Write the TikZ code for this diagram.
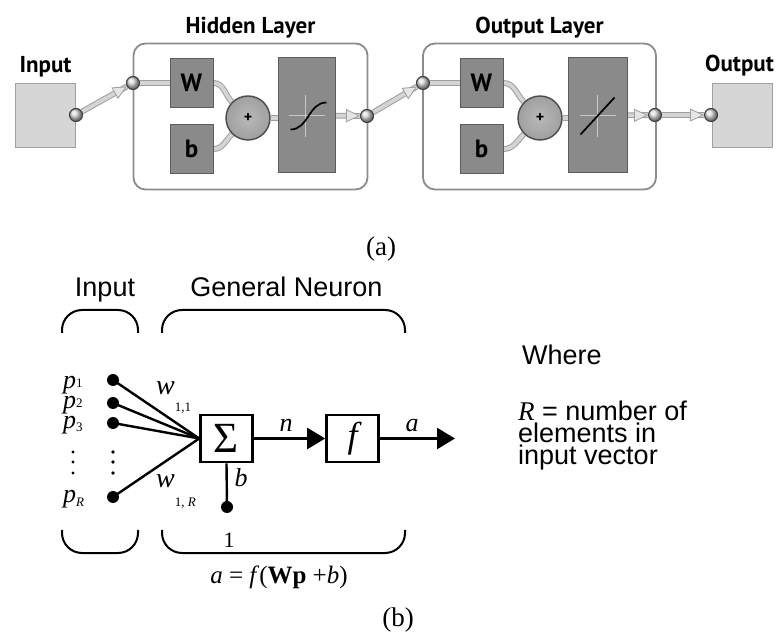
\documentclass[tikz,border=0pt]{standalone}
\usepackage{fontspec}
\setmainfont{Liberation Serif}
\setsansfont{Liberation Sans}
\newfontfamily\nnfont{PT Sans}
\usepackage{xcolor}
\usepackage{tikz}
\usetikzlibrary{arrows.meta,positioning,calc,shapes.geometric,backgrounds}
\definecolor{slab}{HTML}{8A8A8A}
\definecolor{slabedge}{HTML}{5C5C5C}
\definecolor{iobg}{HTML}{D6D6D6}
\definecolor{ioedge}{HTML}{A0A0A0}
\definecolor{frame}{HTML}{8C8C8C}
\definecolor{pipefill}{HTML}{D4D4D4}
\definecolor{pipeline}{HTML}{9E9E9E}
\newcommand{\lsize}{\fontsize{23}{26}\selectfont\nnfont\bfseries}
\newcommand{\ssize}{\fontsize{27}{22}\selectfont\sffamily}
\newcommand{\tsize}{\fontsize{26}{26}\selectfont\rmfamily}
\newcommand{\wsub}[2]{\raisebox{#1}{\fontsize{13}{13}\selectfont\upshape #2}}
\tikzset{
  lab/.style={font=\lsize, inner sep=0pt},
  iobox/.style={draw=ioedge, line width=1.6pt, fill=iobg,
                minimum width=60pt, minimum height=64pt},
  lframe/.style={draw=frame, line width=1.8pt, rounded corners=12pt, fill=white,
                 minimum width=234pt, minimum height=146pt},
  wbox/.style={draw=slabedge, line width=1pt, fill=slab, inner sep=0pt,
               minimum width=43pt, minimum height=49pt,
               font=\fontsize{25}{25}\selectfont\nnfont\bfseries},
  tfbox/.style={wbox, minimum width=57pt, minimum height=115pt},
  sumc/.style={circle, draw=slabedge!80!black, line width=1.4pt, minimum size=44pt,
               inner sep=0pt, inner color=gray!55, outer color=gray!75,
               font=\fontsize{16}{16}\selectfont\nnfont\bfseries},
  port/.style={circle, draw=black!75, line width=1.1pt, minimum size=13pt,
               inner sep=0pt, ball color=gray!30},
  pipe/.style={draw=pipeline, line width=1pt, double=pipefill, double distance=3.8pt},
  hollow/.style={draw=pipeline, line width=0.8pt,
                 -{Triangle[fill=pipefill!60!white, length=14pt, width=13pt]}},
  icon/.style={line width=1.7pt, draw=black},
  xhair/.style={line width=0.9pt, draw=gray!45},
  % general neuron
  sans/.style={font=\ssize, inner sep=0pt},
  tms/.style={font=\tsize\itshape, inner sep=0pt},
  nbox/.style={draw, line width=2.6pt, minimum width=52pt, minimum height=47pt,
               inner sep=0pt},
  wire/.style={line width=2.4pt},
  arr/.style={wire, -{Triangle[length=18pt, width=21pt]}},
  pdot/.style={circle, fill=black, inner sep=0pt, minimum size=12pt},
  hoop/.style={line width=2pt, rounded corners=20pt},
}

\begin{document}
\begin{tikzpicture}[x=1pt, y=1pt]
\useasboundingbox (0,0) rectangle (781,637);

% ---- (a) INPUT / OUTPUT ----
\node[iobox] (inbox)  at (45.5,521.5) {};
\node[iobox] (outbox) at (742.5,521.5) {};
\node[lab, above=5pt of inbox] (inlab) {Input};
\node[lab, above=6pt of outbox, xshift=-3pt] (outlab) {Output};
\node[port] (inP)  at (76,522) {};
\node[port] (outP) at (711,522) {};

% ---- HIDDEN LAYER ----
\node[port]  (hIn)  at (133,554) {};
\node[wbox]  (hW)   at (191.5,554) {W};
\node[wbox]  (hb)   at (191.5,488) {b};
\node[sumc]  (hsum) at (248,519) {+};
\node[tfbox] (htf)  at (306.5,521.5) {};
\node[port]  (hOut) at (367,521) {};

% ---- OUTPUT LAYER ----
\node[port]  (oIn)  at (423,554) {};
\node[wbox]  (oW)   at (481.5,554) {W};
\node[wbox]  (ob)   at (481.5,488) {b};
\node[sumc]  (osum) at (540,519) {+};
\node[tfbox, minimum width=59pt] (otf) at (597.5,521.5) {};
\node[port]  (oOut) at (655,522) {};

% frames and pipes behind the blocks
\begin{scope}[on background layer]
  \node[lframe] (hid) at (250.5,520.5) {};
  \node[lframe, minimum width=233pt] (outl) at (539.5,520.5) {};
  \draw[pipe] (inP) -- (hIn);
  \draw[pipe] (hIn) -- (hW);
  \draw[pipe] (hW.east) to[out=0,in=135] (hsum.135);
  \draw[pipe] (hb.east) to[out=0,in=-135] (hsum.-135);
  \draw[pipe] (hsum.east) -- (hsum.east -| htf.west);
  \draw[pipe] (htf) -- (hOut);
  \draw[pipe] (hOut) -- (oIn);
  \draw[pipe] (oIn) -- (oW);
  \draw[pipe] (oW.east) to[out=0,in=135] (osum.135);
  \draw[pipe] (ob.east) to[out=0,in=-135] (osum.-135);
  \draw[pipe] (osum.east) -- (osum.east -| otf.west);
  \draw[pipe] (otf) -- (oOut);
  \draw[pipe] (oOut) -- (outP);
\end{scope}

\node[lab, above=4.5pt of hid]  (hidlab)  {Hidden Layer};
\node[lab, above=4.5pt of outl] (outllab) {Output Layer};

% hollow heads on the pipes
\foreach \a/\b in {inP/hIn, htf.east/hOut, hOut/oIn, otf.east/oOut, oOut/outP}
  \draw[hollow] ($(\b)!21pt!(\a)$) -- ($(\b)!7pt!(\a)$);

% transfer functions
\begin{scope}[shift={(htf.center)}]
  \draw[xhair] (-18,0) -- (18,0) (-1,-22) -- (-1,20);
  \draw[icon] (-16,-14) .. controls (2,-14) and (2,13) .. (20,13);
\end{scope}
\begin{scope}[shift={(otf.center)}]
  \draw[xhair] (-18,0) -- (18,0) (0,-22) -- (0,20);
  \draw[icon] (-17,-19) -- (17,18);
\end{scope}

\node[font=\fontsize{27}{27}\selectfont, anchor=base] (capa) at (381,381) {(a)};

% ---- (b) GENERAL NEURON ----
\node[sans, anchor=base] (inhead) at (105,340) {Input};
\node[sans, anchor=base] (gnhead) at (286.5,340) {General Neuron};

\draw[hoop] (62,304) -- (62,327) -- (138,327) -- (138,304);
\draw[hoop] (162,304) -- (162,327) -- (405,327) -- (405,304);
\draw[hoop] (62,107) -- (62,84) -- (138,84) -- (138,107);
\draw[hoop] (162,107) -- (162,84) -- (405,84) -- (405,107);

\node[pdot] (x1) at (113,257) {};
\node[pdot] (x2) at (113,234) {};
\node[pdot] (x3) at (113,214) {};
\node[pdot] (xR) at (113,140) {};
\foreach \y in {185,175,164} {
  \fill (73,\y) circle (1.7);
  \fill (113,\y) circle (1.9);
}
\node[tms, anchor=base west] (p1) at (63,248) {p\wsub{1pt}{1}};
\node[tms, anchor=base west] (p2) at (63,228) {p\wsub{1pt}{2}};
\node[tms, anchor=base west] (p3) at (63,208) {p\wsub{-3pt}{3}};
\node[tms, anchor=base west] (pR) at (63,134) {p\wsub{-4pt}{\textit{R}}};

\node[nbox, font=\fontsize{43}{43}\selectfont\rmfamily] (sigma) at (226.5,198.5) {Σ};
\node[nbox, font=\fontsize{36}{36}\selectfont\rmfamily\itshape] (fbox) at (352.5,198.5) {f};
\node[pdot] (one) at (227,130) {};
\coordinate (aend) at (455,198.5);

\foreach \p in {x1,x2,x3,xR}
  \draw[wire] (\p.center) -- (sigma.west);
\draw[wire] (sigma.south) -- (one.center);
\draw[arr] (sigma) -- (fbox);
\draw[arr] (fbox) -- (aend);

\node[tms, anchor=base] (nlab) at (286,205) {n};
\node[tms, anchor=base] (alab) at (412,205) {a};
\node[tms, anchor=base] (blab) at (241,150) {b};
\node[tms, font=\fontsize{28}{28}\selectfont\rmfamily\itshape, anchor=base west]
  (w11) at (156,242) {w\wsub{-17pt}{1,1}};
\node[tms, font=\fontsize{28}{28}\selectfont\rmfamily\itshape, anchor=base west]
  (w1R) at (156,149) {w\wsub{-19pt}{1, \textit{R}}};
\node[font=\fontsize{22}{22}\selectfont, anchor=base] (onelab) at (229,89) {1};
\node[font=\fontsize{25}{25}\selectfont, anchor=base] (eqn) at (279,54)
  {\textit{a} = \textit{f}(\textbf{Wp} +\textit{b})};

\node[sans, anchor=base west] (where) at (522,272) {Where};
\node[sans, align=left, anchor=north west] (rdef) at (518,236)
  {{\rmfamily\itshape R} = number of\\elements in\\input vector};

\node[font=\fontsize{27}{27}\selectfont, anchor=base] (capb) at (398,11) {(b)};

\end{tikzpicture}
\end{document}
